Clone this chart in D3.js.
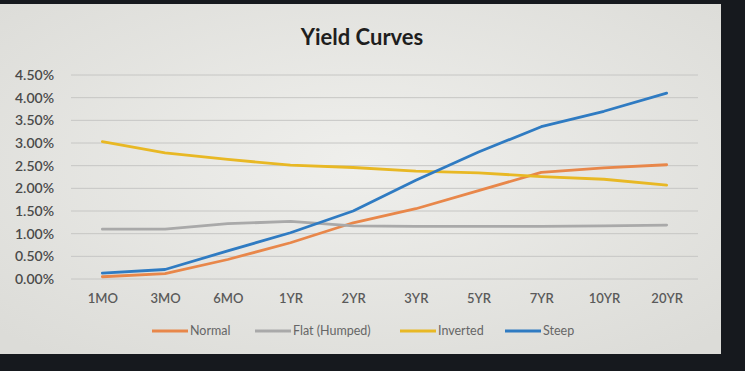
<!DOCTYPE html>
<html>
<head>
<meta charset="utf-8">
<script src="https://cdn.jsdelivr.net/npm/d3@7"></script>
<style>
  body { margin: 0; background: #16191e; }
  svg { display: block; }
</style>
</head>
<body>
<div id="chart"></div>
<script>
const categories = ['1MO', '3MO', '6MO', '1YR', '2YR', '3YR', '5YR', '7YR', '10YR', '20YR'];
const normal = [0.05, 0.12, 0.43, 0.8, 1.24, 1.55, 1.95, 2.35, 2.45, 2.52];
const flat = [1.1, 1.1, 1.22, 1.27, 1.17, 1.16, 1.16, 1.16, 1.17, 1.19];
const inverted = [3.03, 2.78, 2.64, 2.51, 2.46, 2.38, 2.34, 2.26, 2.2, 2.07];
const steep = [0.13, 0.21, 0.62, 1.02, 1.5, 2.18, 2.8, 3.36, 3.7, 4.1];
const yTicks = [0, 0.5, 1, 1.5, 2, 2.5, 3, 3.5, 4, 4.5];

const series = [
  { name: 'Normal', values: normal, color: '#e8874a' },
  { name: 'Flat (Humped)', values: flat, color: '#a9a9a9' },
  { name: 'Inverted', values: inverted, color: '#e8b824' },
  { name: 'Steep', values: steep, color: '#2f7bc2' },
];

const width = 745;
const height = 371;
const margin = { top: 75, right: 47, bottom: 92, left: 71 };

const svg = d3.select('#chart').append('svg')
  .attr('width', width)
  .attr('height', height);

// chart panel (photo of a screen, so a soft light background)
const grad = svg.append('defs').append('radialGradient')
  .attr('id', 'panel')
  .attr('cx', '50%').attr('cy', '45%').attr('r', '70%');
grad.append('stop').attr('offset', '0%').attr('stop-color', '#efefec');
grad.append('stop').attr('offset', '100%').attr('stop-color', '#dcdcd8');

svg.append('rect')
  .attr('x', 0).attr('y', 4)
  .attr('width', 721).attr('height', 350)
  .attr('fill', 'url(#panel)');

const x = d3.scalePoint()
  .domain(categories)
  .range([margin.left, width - margin.right])
  .padding(0.5);

const y = d3.scaleLinear()
  .domain([0, 4.5])
  .range([height - margin.bottom, margin.top]);

// grid
svg.append('g')
  .selectAll('line')
  .data(yTicks)
  .join('line')
  .attr('x1', margin.left)
  .attr('x2', width - margin.right)
  .attr('y1', d => y(d))
  .attr('y2', d => y(d))
  .attr('stroke', '#c6c6c4')
  .attr('stroke-width', 1);

// y axis labels
const yAxis = svg.append('g')
  .attr('transform', `translate(${margin.left - 14},0)`)
  .call(d3.axisLeft(y).tickValues(yTicks).tickFormat(d => d.toFixed(2) + '%').tickSize(0));
yAxis.select('.domain').remove();
yAxis.selectAll('text')
  .attr('fill', '#4a4a4a')
  .style('font-family', 'Lato, sans-serif')
  .style('font-size', '14px')
  .style('font-weight', '600');

// x axis labels
const xAxis = svg.append('g')
  .attr('transform', `translate(0,${height - margin.bottom + 12})`)
  .call(d3.axisBottom(x).tickSize(0));
xAxis.select('.domain').remove();
xAxis.selectAll('text')
  .attr('fill', '#5a5a5a')
  .style('font-family', 'Lato, sans-serif')
  .style('font-size', '13px')
  .style('font-weight', '600');

// lines
const line = d3.line()
  .x((d, i) => x(categories[i]))
  .y(d => y(d));

svg.append('g')
  .selectAll('path')
  .data(series)
  .join('path')
  .attr('d', d => line(d.values))
  .attr('fill', 'none')
  .attr('stroke', d => d.color)
  .attr('stroke-width', 2.8)
  .attr('stroke-linejoin', 'round')
  .attr('stroke-linecap', 'round');

// title
svg.append('text')
  .attr('x', 362)
  .attr('y', 45)
  .attr('text-anchor', 'middle')
  .attr('fill', '#1e1e1e')
  .style('font-family', 'Lato, sans-serif')
  .style('font-size', '22px')
  .style('font-weight', '700')
  .text('Yield Curves');

// legend
const legendX = [152, 255, 400, 505];
const legend = svg.append('g')
  .selectAll('g')
  .data(series)
  .join('g')
  .attr('transform', (d, i) => `translate(${legendX[i]},${331})`);

legend.append('line')
  .attr('x1', 0).attr('x2', 36)
  .attr('y1', 0).attr('y2', 0)
  .attr('stroke', d => d.color)
  .attr('stroke-width', 3);

legend.append('text')
  .attr('x', 38)
  .attr('y', 4)
  .attr('fill', '#666')
  .style('font-family', 'Lato, sans-serif')
  .style('font-size', '12.5px')
  .text(d => d.name);
</script>
</body>
</html>
